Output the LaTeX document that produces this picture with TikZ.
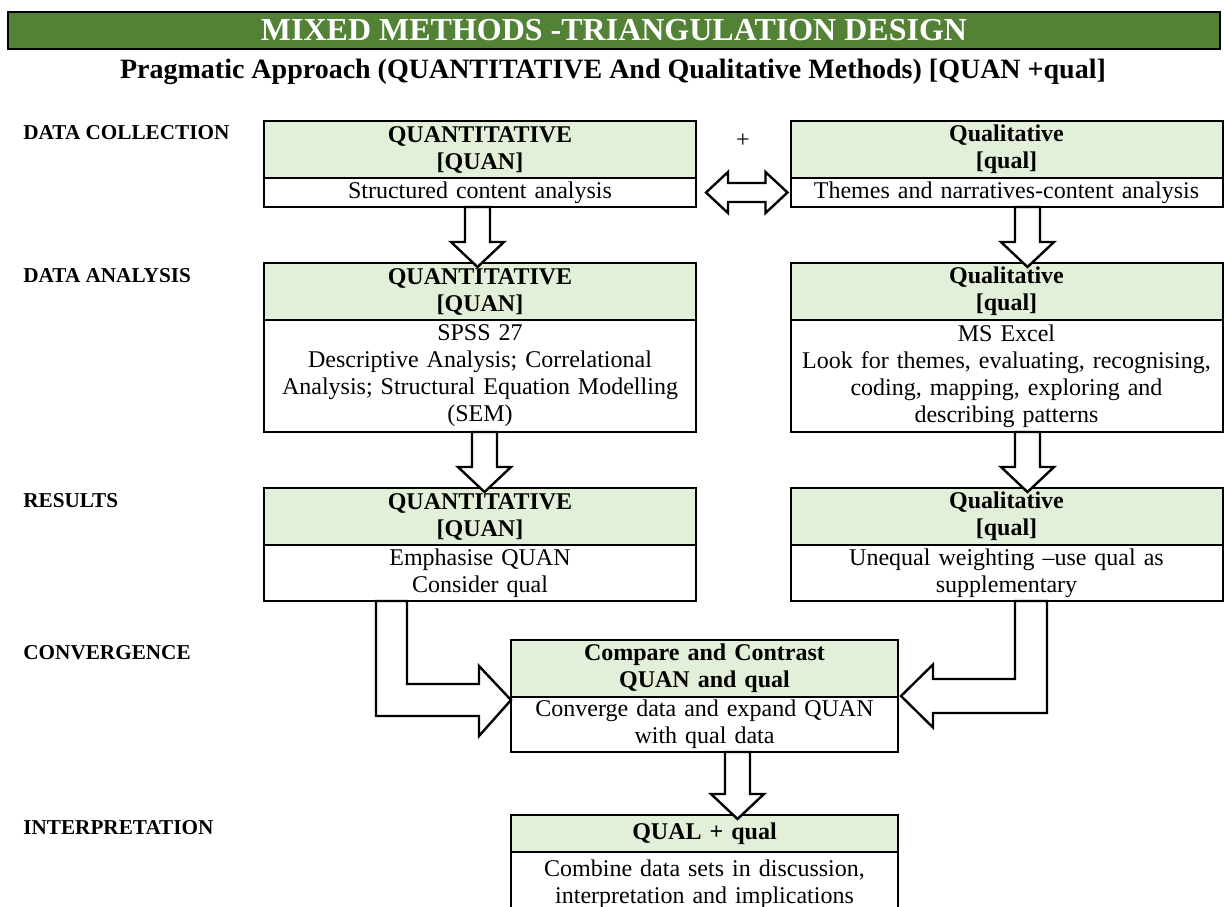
\documentclass[tikz,border=0pt]{standalone}
\usepackage{fontspec}
\setmainfont{Liberation Serif}
\usetikzlibrary{calc}
\definecolor{bargreen}{HTML}{538135}
\definecolor{headgreen}{HTML}{E2EFD9}

% vertical block arrow from the bottom of one box to the top of the next
\newcommand\downblock[3]{%
  \draw[blockarrow]
    ($(#1.south -| #3)+(-12.5,0)$) -- ($(#2.north -| #3)+(-12.5,-21)$)
    -- ($(#2.north -| #3)+(-26.5,-21)$) -- ($(#2.north -| #3)+(0,4)$)
    -- ($(#2.north -| #3)+(26.5,-21)$) -- ($(#2.north -| #3)+(12.5,-21)$)
    -- ($(#1.south -| #3)+(12.5,0)$) -- cycle;}

\begin{document}
\begin{tikzpicture}[x=0.5pt,y=-0.5pt,
  box/.style={draw=black, line width=1pt, inner sep=0pt, outer sep=0pt,
    align=center, font=\fontsize{12}{13.5}\selectfont},
  headbox/.style={box, fill=headgreen, font=\bfseries\fontsize{12}{13.5}\selectfont},
  bodybox/.style={box, fill=white},
  sidecol/.style={minimum width=216pt, text width=212pt},
  midcol/.style={minimum width=193.5pt, text width=190pt},
  titlebar/.style={draw=black, fill=bargreen, line width=1pt, inner sep=0pt,
    minimum width=606pt, minimum height=18.5pt, text=white,
    font=\bfseries\fontsize{16}{18}\selectfont},
  subtitle/.style={font=\bfseries\fontsize{14}{16}\selectfont, inner sep=0pt},
  stage/.style={anchor=west, inner sep=0pt, font=\bfseries\fontsize{10.6}{12}\selectfont},
  blockarrow/.style={draw=black, fill=white, line width=1.2pt, line join=miter}
]
\useasboundingbox (0,0) rectangle (1226,906);

% title and subtitle
\node[titlebar] (title) at (614,30.5) {MIXED METHODS -TRIANGULATION DESIGN};
\node[subtitle] (sub) at (613,72) {Pragmatic Approach (QUANTITATIVE And Qualitative Methods) [QUAN +qual]};

% stage labels
\node[stage] (s1) at (23,133) {DATA COLLECTION};
\node[stage] (s2) at (23,276) {DATA ANALYSIS};
\node[stage] (s3) at (23,501) {RESULTS};
\node[stage] (s4) at (23,653) {CONVERGENCE};
\node[stage] (s5) at (23,828) {INTERPRETATION};

% data collection
\node[headbox, sidecol, minimum height=28.5pt] (L1h) at (480,149.5) {QUANTITATIVE\\{}[QUAN]};
\node[bodybox, sidecol, minimum height=14.5pt] (L1b) at (480,192.5) {Structured content analysis};
\node[headbox, sidecol, minimum height=28.5pt] (R1h) at (1006.5,149.5) {Qualitative\\{}[qual]};
\node[bodybox, sidecol, minimum height=14.5pt] (R1b) at (1006.5,192.5) {Themes and narratives-content analysis};
\node[font=\fontsize{12}{13.5}\selectfont, inner sep=0pt] (plus) at (743,141) {+};

% data analysis
\node[headbox, sidecol, minimum height=28.5pt] (L2h) at (480,291.5) {QUANTITATIVE\\{}[QUAN]};
\node[bodybox, sidecol, minimum height=56pt] (L2b) at (480,376) {SPSS 27\\Descriptive Analysis; Correlational\\Analysis; Structural Equation Modelling\\(SEM)};
\node[headbox, sidecol, minimum height=28.5pt] (R2h) at (1006.5,291.5) {Qualitative\\{}[qual]};
\node[bodybox, sidecol, minimum height=56pt] (R2b) at (1006.5,376) {MS Excel\\Look for themes, evaluating, recognising,\\coding, mapping, exploring and\\describing patterns};

% results
\node[headbox, sidecol, minimum height=28.5pt] (L3h) at (480,516.5) {QUANTITATIVE\\{}[QUAN]};
\node[bodybox, sidecol, minimum height=28pt] (L3b) at (480,573) {Emphasise QUAN\\Consider qual};
\node[headbox, sidecol, minimum height=28.5pt] (R3h) at (1006.5,516.5) {Qualitative\\{}[qual]};
\node[bodybox, sidecol, minimum height=28pt] (R3b) at (1006.5,573) {Unequal weighting --use qual as\\supplementary};

% convergence
\node[headbox, midcol, minimum height=28.5pt] (Ch) at (704.5,668.5) {Compare and Contrast\\QUAN and qual};
\node[bodybox, midcol, minimum height=27.5pt] (Cb) at (704.5,724.5) {Converge data and expand QUAN\\with qual data};

% interpretation
\node[headbox, midcol, minimum height=18.5pt] (Ih) at (704.5,833.5) {QUAL + qual};
\node[bodybox, midcol, minimum height=32pt] (Ib) at (704.5,884) {Combine data sets in discussion,\\interpretation and implications};

% arrow axes
\coordinate (xa1) at (477.5,0);
\coordinate (xa2) at (484.5,0);
\coordinate (xb) at (1027.5,0);
\coordinate (xc) at (737.5,0);
\coordinate (lo) at (376,0);
\coordinate (li) at (407,0);
\coordinate (ri) at (1015,0);
\coordinate (ro) at (1047,0);

% straight block arrows
\downblock{L1b}{L2h}{xa1}
\downblock{L2b}{L3h}{xa2}
\downblock{R1b}{R2h}{xb}
\downblock{R2b}{R3h}{xb}
\downblock{Cb}{Ih}{xc}

% two-headed arrow between the collection boxes
\coordinate (da) at ($(L1b.east)+(10,0)$);
\coordinate (db) at ($(R1b.west)+(-3,0)$);
\draw[blockarrow] (da) -- ($(da)+(22,-20.5)$) -- ($(da)+(22,-9.5)$)
  -- ($(db)+(-22,-9.5)$) -- ($(db)+(-22,-20.5)$) -- (db)
  -- ($(db)+(-22,20.5)$) -- ($(db)+(-22,9.5)$)
  -- ($(da)+(22,9.5)$) -- ($(da)+(22,20.5)$) -- cycle;

% bent arrows into the convergence box
\coordinate (ct) at ($(Ch.south west)+(0,3)$);
\draw[blockarrow] (L3b.south -| lo) -- (L3b.south -| li) -- ($(ct -| li)+(0,-16)$)
  -- ($(ct)+(-32,-16)$) -- ($(ct)+(-32,-34)$) -- (ct) -- ($(ct)+(-32,36)$)
  -- ($(ct)+(-32,16)$) -- ($(ct -| lo)+(0,16)$) -- cycle;
\coordinate (cr) at ($(Ch.south east)+(3,-1)$);
\draw[blockarrow] (R3b.south -| ri) -- (R3b.south -| ro) -- ($(cr -| ro)+(0,17)$)
  -- ($(cr)+(32,17)$) -- ($(cr)+(32,31.5)$) -- (cr) -- ($(cr)+(32,-31.5)$)
  -- ($(cr)+(32,-17)$) -- ($(cr -| ri)+(0,-17)$) -- cycle;
\end{tikzpicture}
\end{document}
